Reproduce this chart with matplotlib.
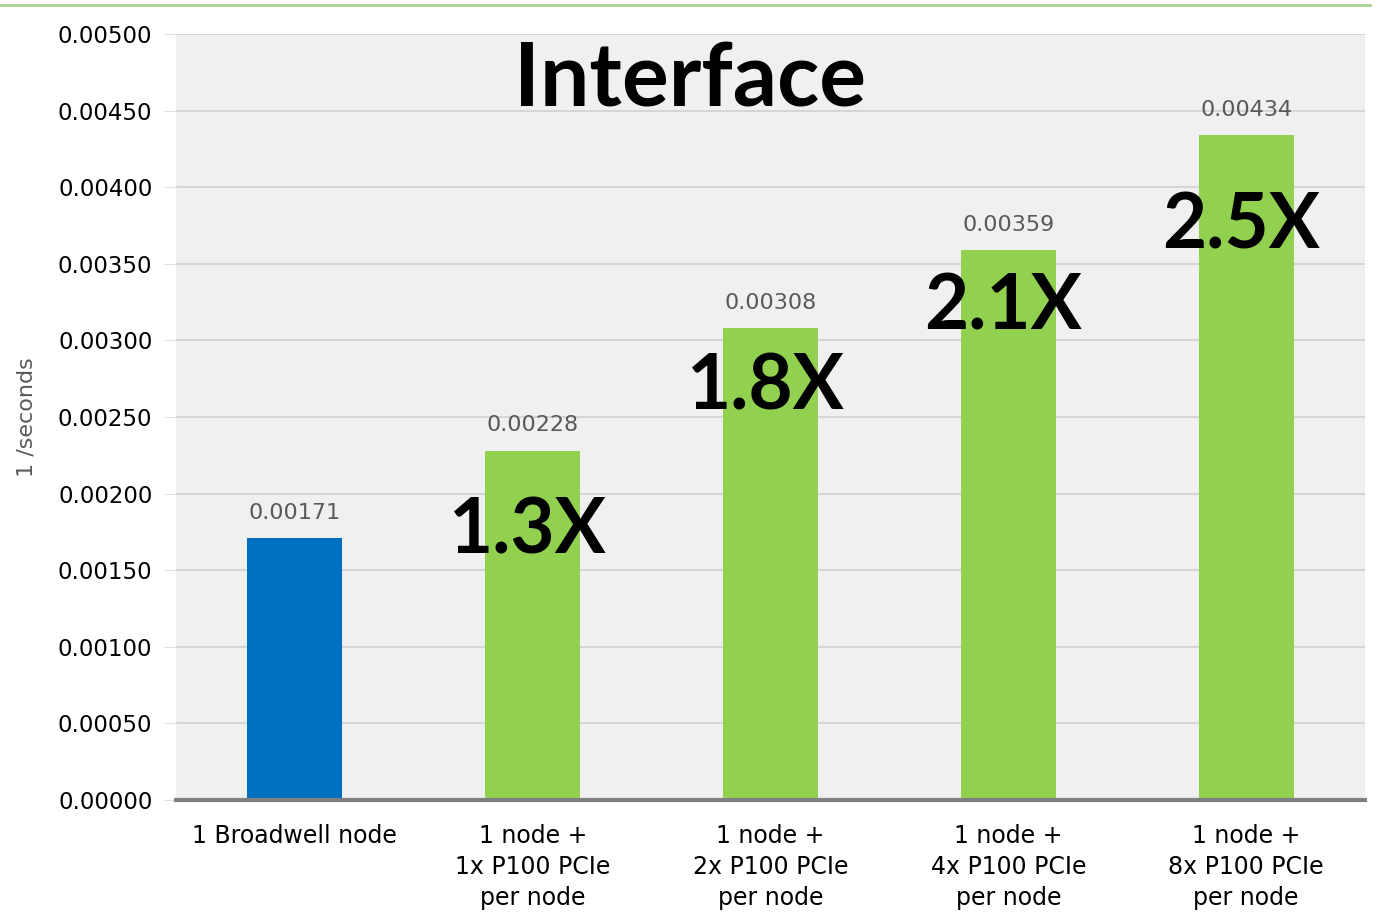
import matplotlib
matplotlib.use("Agg")
import matplotlib.pyplot as plt
from matplotlib.lines import Line2D

categories = ["1 Broadwell node",
              "1 node +\n1x P100 PCIe\nper node",
              "1 node +\n2x P100 PCIe\nper node",
              "1 node +\n4x P100 PCIe\nper node",
              "1 node +\n8x P100 PCIe\nper node"]
values = [0.00171, 0.00228, 0.00308, 0.00359, 0.00434]
value_labels = ["0.00171", "0.00228", "0.00308", "0.00359", "0.00434"]
speedups = ["", "1.3X", "1.8X", "2.1X", "2.5X"]
speedup_y = [None, 0.001612, 0.002546, 0.003074, 0.003597]
yticks = [0.0, 0.0005, 0.001, 0.0015, 0.002, 0.0025, 0.003, 0.0035, 0.004, 0.0045, 0.005]
bar_colors = ["#0070C0", "#92D050", "#92D050", "#92D050", "#92D050"]

plt.rcParams['font.family'] = ['DejaVu Sans']

fig = plt.figure(figsize=(13.79, 9.17), dpi=100)
ax = fig.add_axes([176/1379, 1-800/917, (1365-176)/1379, (800-34)/917])
ax.set_facecolor("#F0F0F0")

x = list(range(len(categories)))
ax.bar(x, values, width=0.40, color=bar_colors, zorder=3)

ax.set_xlim(-0.5, 4.5)
ax.set_ylim(0, 0.005)
ax.set_yticks(yticks)
ax.set_yticklabels([f"{v:.5f}" for v in yticks], fontsize=16.5, color="black")
ax.set_xticks(x)
ax.set_xticklabels(categories, fontsize=17, color="black", linespacing=1.37)
ax.tick_params(axis="y", length=9, color="#E0E0E0", pad=8)
ax.tick_params(axis="x", length=0, pad=17)
ax.grid(axis="y", color="#D0D0D0", linewidth=1.2, zorder=0)
ax.set_axisbelow(True)
for s in ["left", "right", "top"]:
    ax.spines[s].set_visible(False)
ax.spines["bottom"].set_color("#808080")
ax.spines["bottom"].set_linewidth(3)
ax.spines["bottom"].set_zorder(4)

for xi, v, lab in zip(x, values, value_labels):
    ax.text(xi, v + 0.0001, lab, ha="center", va="bottom", fontsize=16, color="#595959")

for xi, s, sy in zip(x, speedups, speedup_y):
    if s:
        ax.text(xi - 0.02, sy, s, ha="center", va="baseline", fontsize=55, fontweight="bold",
                family=["Lato", "DejaVu Sans"], color="black", zorder=5)

ax.text(0.432, 0.906, "Interface", transform=ax.transAxes, ha="center", va="baseline",
        fontsize=63, fontweight="bold", family=["Lato", "DejaVu Sans"], color="black")

ax.set_ylabel("1 /seconds", fontsize=16, color="#595959")
ax.yaxis.set_label_coords(-0.117, 0.5)

fig.add_artist(Line2D([0, 1370/1379], [1-5/917, 1-5/917], color="#A9D18E",
                      linewidth=2, transform=fig.transFigure))

fig.savefig("out.png", dpi=100)
